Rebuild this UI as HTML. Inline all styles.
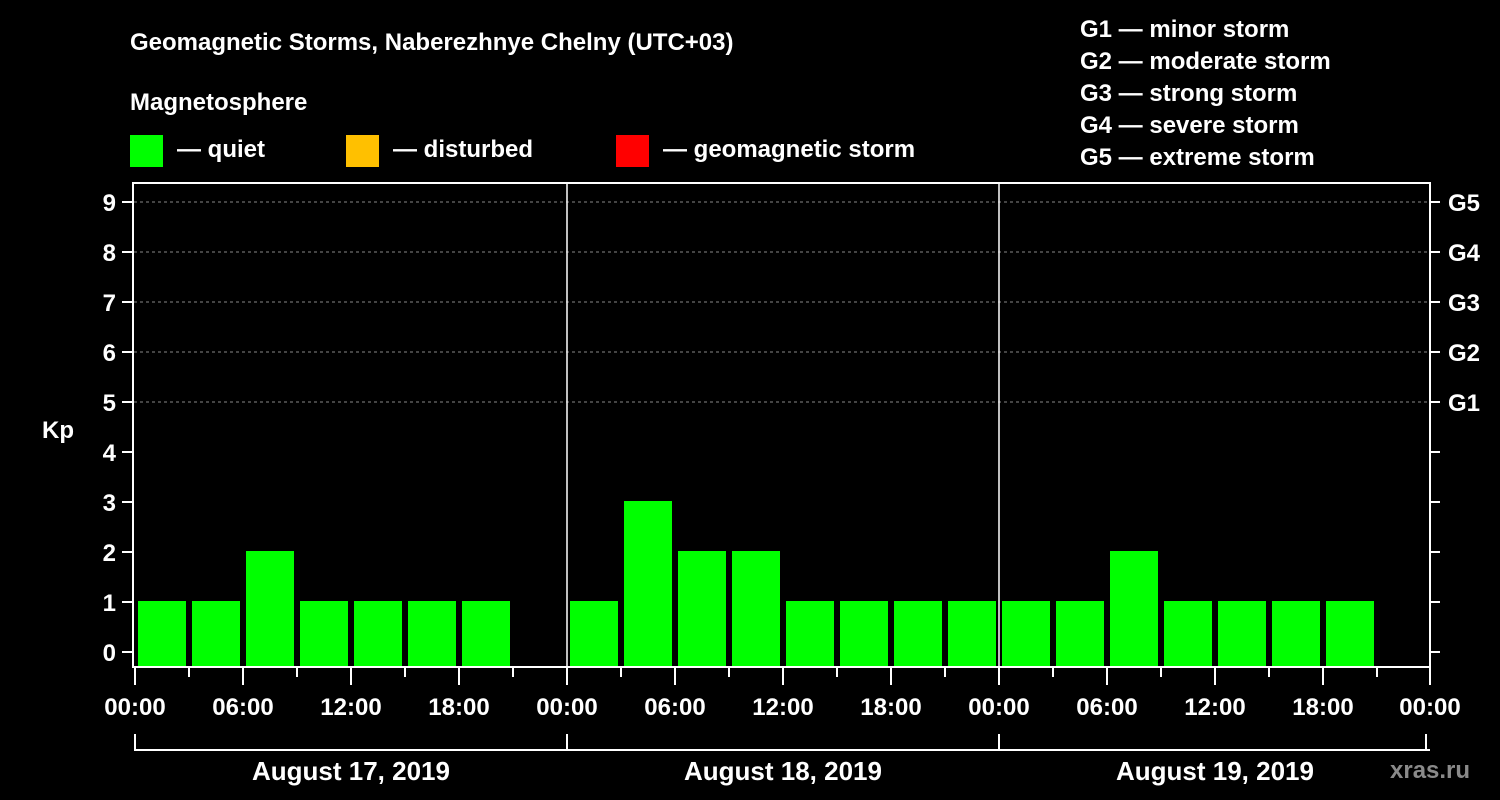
<!DOCTYPE html>
<html><head><meta charset="utf-8"><style>
html,body{margin:0;padding:0;background:#000;width:1500px;height:800px;overflow:hidden}
svg text{font-family:"Liberation Sans",Arial,sans-serif;font-weight:bold;fill:#fff}
</style></head><body>
<svg id="c" width="1500" height="800" xmlns="http://www.w3.org/2000/svg">
<text x="130" y="50" font-size="24">Geomagnetic Storms, Naberezhnye Chelny (UTC+03)</text>
<text x="130" y="110" font-size="24">Magnetosphere</text>
<g><rect x="130" y="135" width="33" height="32" fill="#00ff00"/><text x="177" y="157" font-size="24">— quiet</text></g>
<g><rect x="346" y="135" width="33" height="32" fill="#ffc000"/><text x="393" y="157" font-size="24">— disturbed</text></g>
<g><rect x="616" y="135" width="33" height="32" fill="#ff0000"/><text x="663" y="157" font-size="24">— geomagnetic storm</text></g>
<g font-size="24">
<text x="1080" y="37">G1 — minor storm</text>
<text x="1080" y="69">G2 — moderate storm</text>
<text x="1080" y="101">G3 — strong storm</text>
<text x="1080" y="133">G4 — severe storm</text>
<text x="1080" y="165">G5 — extreme storm</text>
</g>
<text x="42" y="438" font-size="24">Kp</text>
<text x="1390" y="778" font-size="24" fill="#888" style="fill:#8a8a8a">xras.ru</text>
<g id="plot"></g>
</svg>
<script>
const days = ["August 17, 2019","August 18, 2019","August 19, 2019"];
const kpDay1 = [1,1,2,1,1,1,1,null];
const kpDay2 = [1,3,2,2,1,1,1,1];
const kpDay3 = [1,1,2,1,1,1,1,null];
const hourLabels = ["00:00","06:00","12:00","18:00"];
const gLabels = ["G1","G2","G3","G4","G5"];
const yTicks = [0,1,2,3,4,5,6,7,8,9];

const NS="http://www.w3.org/2000/svg";
const g=document.getElementById('plot');
const X0=135, DAYW=432, Y0=652, UNIT=50, BOTTOM=667, TOP=183, RIGHT=1430;
const xh=(d,h)=>X0+d*DAYW+h*DAYW/24;
const y=v=>Y0-v*UNIT;
function mk(tag,attrs,parent){const e=document.createElementNS(NS,tag);for(const k in attrs)e.setAttribute(k,attrs[k]);(parent||g).appendChild(e);return e;}

// grid
yTicks.filter(v=>v>=5).forEach(v=>{
  const l=mk('line',{x1:134,x2:RIGHT,y1:y(v),y2:y(v),stroke:'#888','stroke-dasharray':'3,3','stroke-width':1});
  
  
});
// bars
[kpDay1,kpDay2,kpDay3].forEach((arr,d)=>{
  arr.forEach((v,i)=>{
    if(v==null)return;
    const x=xh(d,i*3)+3;
    const r=mk('rect',{x:x,y:y(v)-1,width:48,height:BOTTOM-y(v)+1,fill:v>=5?'#ff0000':(v>=4?'#ffc000':'#00ff00')});
    
    
  });
});
// axes frame
const fr=mk('rect',{x:133,y:TOP,width:RIGHT-133,height:BOTTOM-TOP,fill:'none',stroke:'#fff','stroke-width':2});


// day separators
[1,2].forEach(d=>{
  const l=mk('line',{x1:xh(d,0),x2:xh(d,0),y1:TOP,y2:BOTTOM,stroke:'#fff','stroke-width':1.5});
  
  
});
// y ticks
yTicks.forEach(v=>{
  mk('line',{x1:122,x2:132,y1:y(v),y2:y(v),stroke:'#fff','stroke-width':2});
  mk('line',{x1:RIGHT,x2:RIGHT+10,y1:y(v),y2:y(v),stroke:'#fff','stroke-width':2});
  const t=mk('text',{x:116,y:y(v)+9,'font-size':24,'text-anchor':'end'});
  t.textContent=v;
  
  
});
gLabels.forEach((s,i)=>{
  const t=mk('text',{x:1448,y:y(5+i)+9,'font-size':24});
  t.textContent=s;
  
  
});
// x ticks
for(let d=0;d<3;d++){
  for(let h=0;h<24;h+=3){
    const major=h%6===0;
    mk('line',{x1:xh(d,h),x2:xh(d,h),y1:BOTTOM,y2:major?685:677,stroke:'#fff','stroke-width':2});
  }
  hourLabels.forEach((s,i)=>{
    const t=mk('text',{x:xh(d,i*6),y:715,'font-size':24,'text-anchor':'middle'});
    t.textContent=s;
    
    
  });
  const t=mk('text',{x:xh(d,12),y:780,'font-size':26,'text-anchor':'middle'});
  t.textContent=days[d];
  
  
}
mk('line',{x1:RIGHT,x2:RIGHT,y1:BOTTOM,y2:685,stroke:'#fff','stroke-width':2});
const lt=mk('text',{x:RIGHT,y:715,'font-size':24,'text-anchor':'middle'});
lt.textContent="00:00";


// bracket
mk('line',{x1:X0,x2:RIGHT,y1:750,y2:750,stroke:'#fff','stroke-width':2});
[0,1,2,3].forEach(d=>{mk('line',{x1:X0+d*DAYW-(d==3?5:0),x2:X0+d*DAYW-(d==3?5:0),y1:734,y2:751,stroke:'#fff','stroke-width':2});});
</script>
</body></html>
